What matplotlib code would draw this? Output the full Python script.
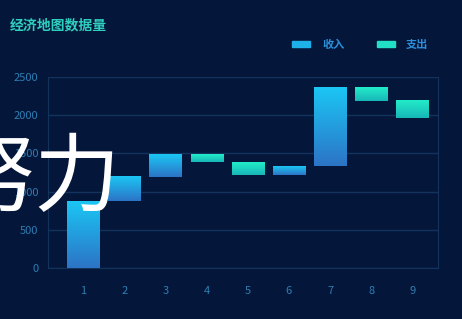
import numpy as np
import matplotlib
matplotlib.use('Agg')
import matplotlib.pyplot as plt
from matplotlib.colors import LinearSegmentedColormap

plt.rcParams['font.family'] = ['Noto Sans CJK SC', 'DejaVu Sans']

# data
categories = ['1', '2', '3', '4', '5', '6', '7', '8', '9']
income = [870, 320, 300, 0, 0, 110, 1030, 0, 0]
expense = [0, 0, 0, 100, 170, 0, 0, 175, 225]
y_ticks = [0, 500, 1000, 1500, 2000, 2500]

title = '经济地图数据量'
legend_labels = ['收入', '支出']

BG = '#04173a'
GRID = '#13325c'
TICK = '#2f7db3'

income_cmap = LinearSegmentedColormap.from_list('inc', ['#2c74c6', '#1bc6f4'])
expense_cmap = LinearSegmentedColormap.from_list('exp', ['#18b6b8', '#22ecc9'])


def gradient_bar(ax, x, bottom, top, width, cmap):
    grad = np.linspace(0, 1, 64).reshape(-1, 1)
    ax.imshow(grad, cmap=cmap, origin='lower', aspect='auto',
              extent=(x - width / 2, x + width / 2, bottom, top), zorder=3)


def main():
    fig = plt.figure(figsize=(4.62, 3.19), dpi=100, facecolor=BG)
    ax = fig.add_axes([0.104, 0.160, 0.844, 0.599])
    ax.set_facecolor(BG)

    level = 0
    xs = np.arange(1, len(categories) + 1)
    for x, inc, exp in zip(xs, income, expense):
        if inc:
            gradient_bar(ax, x, level, level + inc, 0.78, income_cmap)
            level += inc
        if exp:
            gradient_bar(ax, x, level - exp, level, 0.78, expense_cmap)
            level -= exp

    ax.set_xlim(0.15, 9.62)
    ax.set_ylim(0, 2500)
    ax.set_xticks(xs)
    ax.set_xticklabels(categories)
    ax.set_yticks(y_ticks)
    ax.tick_params(colors=TICK, labelsize=8, length=0)
    ax.tick_params(axis='x', pad=13)
    ax.tick_params(axis='y', pad=7)
    ax.grid(axis='y', color=GRID, linewidth=1)
    ax.set_axisbelow(True)
    for side, sp in ax.spines.items():
        sp.set_color(GRID)
        sp.set_linewidth(0.8)
    ax.spines['top'].set_visible(False)

    fig.text(10 / 462, 1 - 25 / 319, title, color='#2fcfc0', fontsize=10,
             fontweight='bold', va='center', ha='left')

    # legend swatches and labels
    fig.patches.append(plt.Rectangle((292 / 462, 1 - 47 / 319), 18 / 462, 6 / 319,
                                     transform=fig.transFigure, color='#1eb0e8'))
    fig.text(322 / 462, 1 - 44 / 319, legend_labels[0], color='#2b8fdc',
             fontsize=8, fontweight='bold', va='center')
    fig.patches.append(plt.Rectangle((377 / 462, 1 - 47 / 319), 18 / 462, 6 / 319,
                                     transform=fig.transFigure, color='#22e0c6'))
    fig.text(406 / 462, 1 - 44 / 319, legend_labels[1], color='#2b8fdc',
             fontsize=8, fontweight='bold', va='center')

    # large white overlay text, partly outside the picture
    fig.text(-51 / 462, 1 - 181 / 319, '努力', color='white', fontsize=62,
             va='center', ha='left', zorder=10)

    fig.savefig('out.png', dpi=100, facecolor=BG)


if __name__ == '__main__':
    main()
